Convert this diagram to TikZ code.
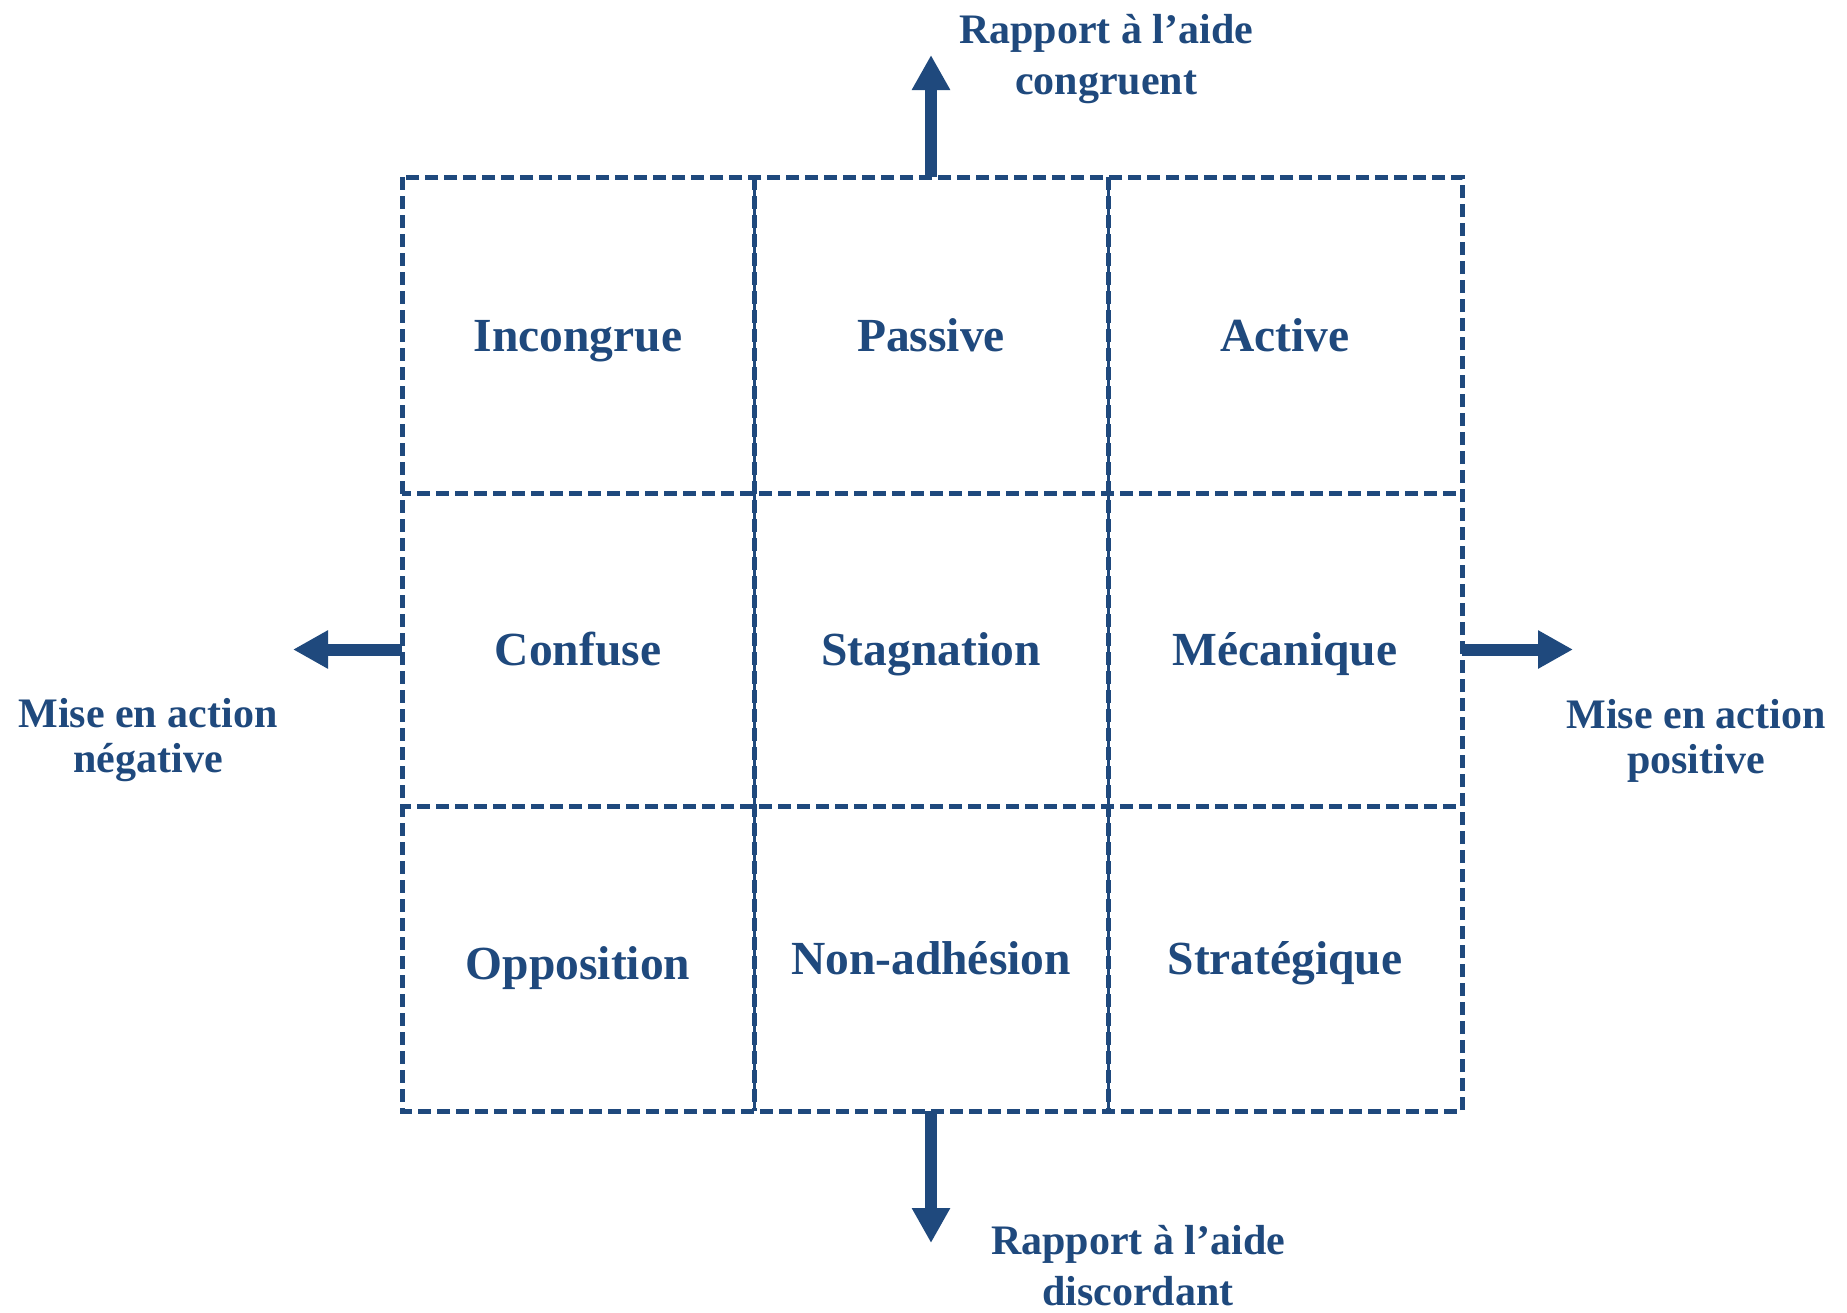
\documentclass[tikz,border=0pt]{standalone}
\usepackage{fontspec}
\setmainfont{Liberation Serif}
\usetikzlibrary{arrows.meta}
\definecolor{navy}{RGB}{31,73,125}
\begin{document}
\begin{tikzpicture}[x=1pt,y=-1pt,
  cell/.style={rectangle, inner sep=0pt, outer sep=0pt, text=navy,
    font=\fontsize{47.5}{57}\selectfont\bfseries, text height=32pt, text depth=0pt},
  gridline/.style={draw=navy, line width=5pt, dash pattern=on 13pt off 6pt},
  axislabel/.style={text=navy, font=\fontsize{42}{51}\selectfont\bfseries, align=center, inner sep=0pt},
  sidelabel/.style={axislabel, font=\fontsize{42}{45}\selectfont\bfseries},
  axisarrow/.style={draw=navy, line width=12pt, -{Triangle[width=36pt,length=35pt]}}]
\path[fill=white, use as bounding box] (0,0) rectangle (1847,1312);

% grid cells
\node[cell, minimum width=352pt, minimum height=316pt] (c11) at (578,335) {Incongrue};
\node[cell, minimum width=354pt, minimum height=316pt] (c12) at (931,335) {Passive};
\node[cell, minimum width=354pt, minimum height=316pt] (c13) at (1285,335) {Active};
\node[cell, minimum width=352pt, minimum height=313pt] (c21) at (578,649.5) {Confuse};
\node[cell, minimum width=354pt, minimum height=313pt] (c22) at (931,649.5) {Stagnation};
\node[cell, minimum width=354pt, minimum height=313pt] (c23) at (1285,649.5) {Mécanique};
\node[cell, minimum width=352pt, minimum height=305pt, text height=42pt] (c31) at (578,958.5) {Opposition};
\node[cell, minimum width=354pt, minimum height=305pt] (c32) at (931,958.5) {Non-adhésion};
\node[cell, minimum width=354pt, minimum height=305pt] (c33) at (1285,958.5) {Stratégique};

% dashed grid
\draw[gridline] (c11.north west) rectangle (c33.south east);
\draw[gridline, dash phase=4pt] (c11.south west) -- (c13.south east);
\draw[gridline, dash phase=4pt] (c31.north west) -- (c33.north east);
\draw[gridline] (c11.north east) -- (c31.south east);
\draw[gridline] (c13.north west) -- (c33.south west);
\draw[gridline, line width=3pt, dash phase=9pt, xshift=3pt] (c11.north east) -- (c31.south east);
\draw[gridline, line width=3pt, dash phase=9pt, xshift=3pt] (c13.north west) -- (c33.south west);

% arrow ends
\coordinate (tup) at (931,55);
\coordinate (tdown) at (931,1243);
\coordinate (tleft) at (293,649.5);
\coordinate (tright) at (1573,649.5);

\draw[axisarrow] (c12.north) -- (tup);
\draw[axisarrow] (c32.south) -- (tdown);
\draw[axisarrow] (c21.west) -- (tleft);
\draw[axisarrow] (c23.east) -- (tright);

% axis labels
\node[axislabel] (ltop) at (1106,59) {Rapport à l’aide\\congruent};
\node[axislabel] (lbottom) at (1138,1266) {Rapport à l’aide\\discordant};
\node[sidelabel] (lleft) at (148,740.5) {Mise en action\\négative};
\node[sidelabel] (lright) at (1696,740.5) {Mise en action\\positive};
\end{tikzpicture}
\end{document}
